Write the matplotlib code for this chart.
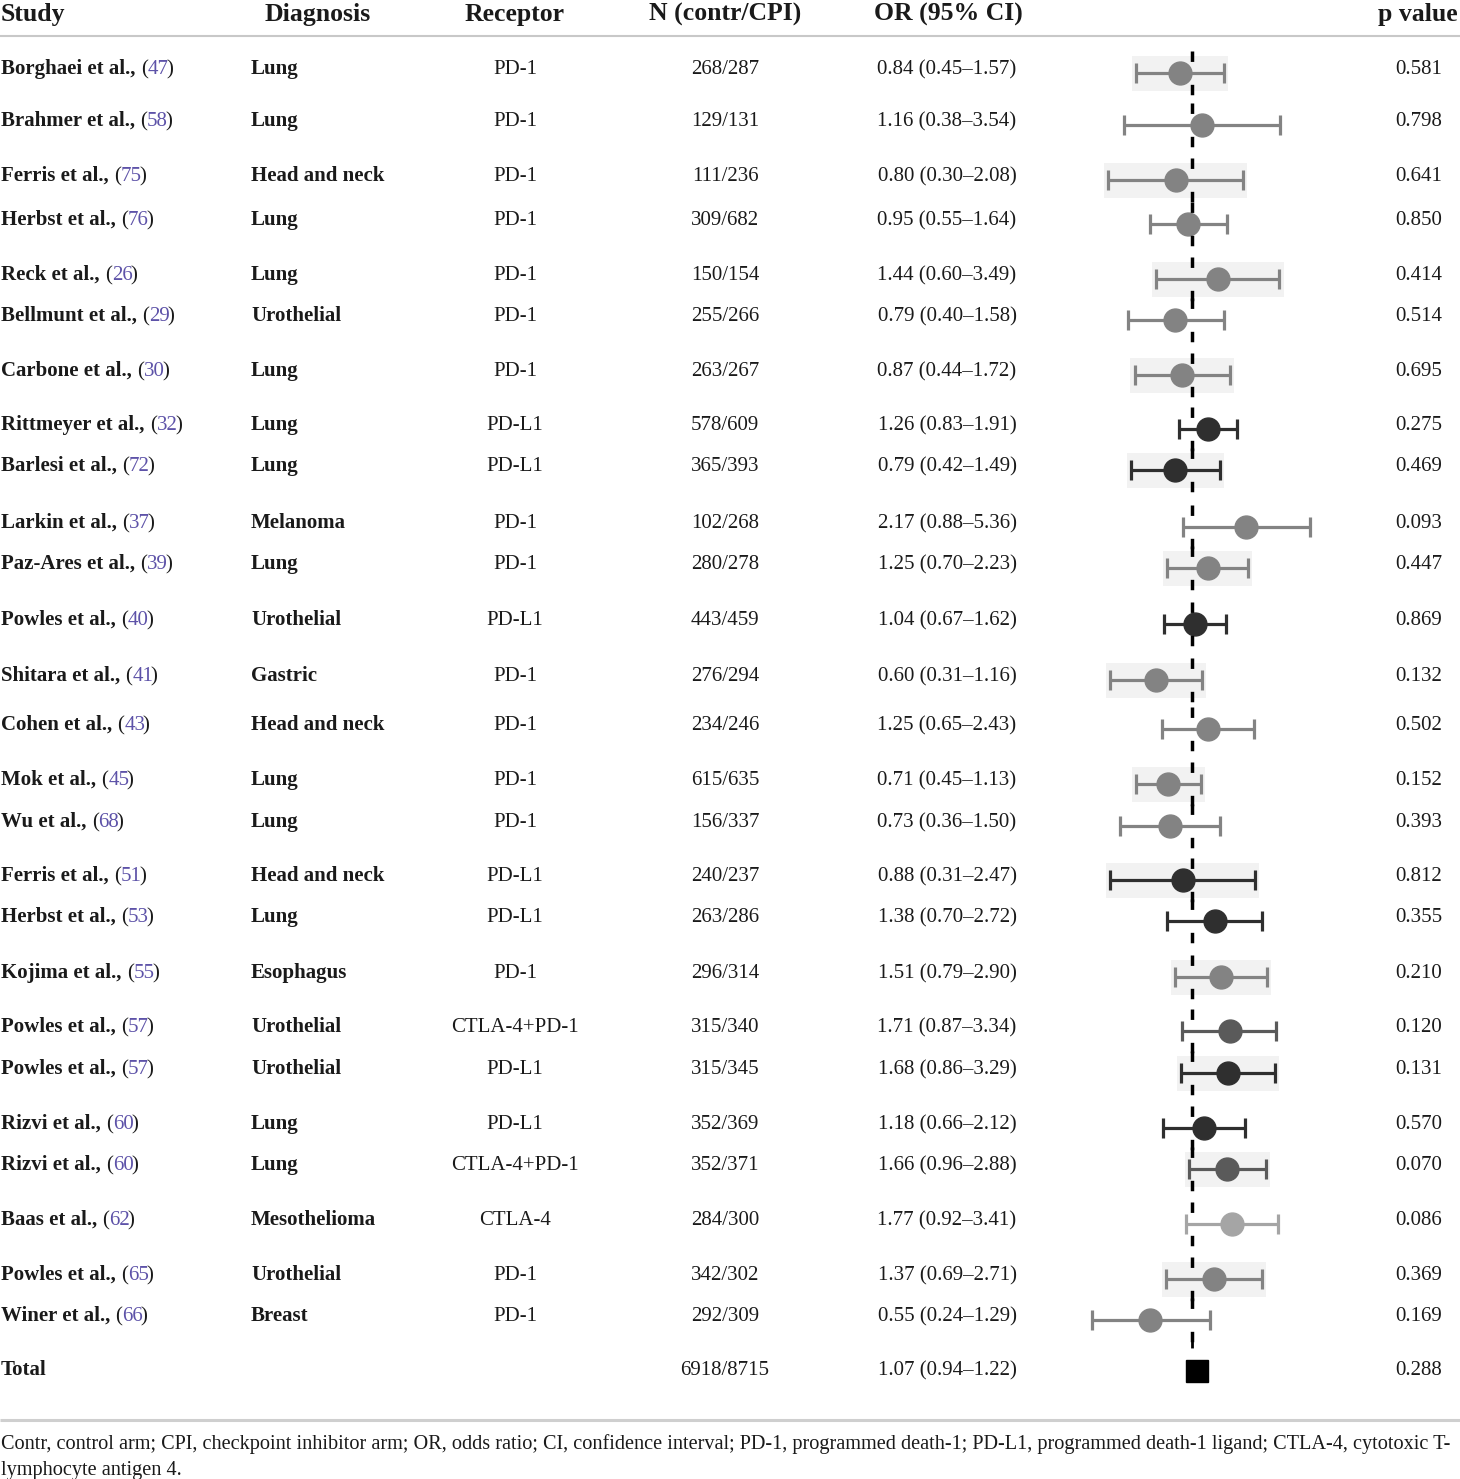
import numpy as np
import matplotlib
matplotlib.use("Agg")
import matplotlib.pyplot as plt
from matplotlib.patches import Rectangle

plt.rcParams['font.family'] = ['Liberation Serif', 'DejaVu Serif']
plt.rcParams['lines.scale_dashes'] = False

# ---------------- data ----------------
headers = ["Study", "Diagnosis", "Receptor", "N (contr/CPI)", "OR (95% CI)", "p value"]

authors = ["Borghaei et al.,", "Brahmer et al.,", "Ferris et al.,", "Herbst et al.,",
           "Reck et al.,", "Bellmunt et al.,", "Carbone et al.,", "Rittmeyer et al.,",
           "Barlesi et al.,", "Larkin et al.,", "Paz-Ares et al.,", "Powles et al.,",
           "Shitara et al.,", "Cohen et al.,", "Mok et al.,", "Wu et al.,",
           "Ferris et al.,", "Herbst et al.,", "Kojima et al.,", "Powles et al.,",
           "Powles et al.,", "Rizvi et al.,", "Rizvi et al.,", "Baas et al.,",
           "Powles et al.,", "Winer et al.,"]
refs = [47, 58, 75, 76, 26, 29, 30, 32, 72, 37, 39, 40, 41, 43, 45, 68,
        51, 53, 55, 57, 57, 60, 60, 62, 65, 66]
diagnosis = ["Lung", "Lung", "Head and neck", "Lung", "Lung", "Urothelial", "Lung", "Lung",
             "Lung", "Melanoma", "Lung", "Urothelial", "Gastric", "Head and neck", "Lung", "Lung",
             "Head and neck", "Lung", "Esophagus", "Urothelial", "Urothelial", "Lung", "Lung",
             "Mesothelioma", "Urothelial", "Breast"]
receptor = ["PD-1", "PD-1", "PD-1", "PD-1", "PD-1", "PD-1", "PD-1", "PD-L1",
            "PD-L1", "PD-1", "PD-1", "PD-L1", "PD-1", "PD-1", "PD-1", "PD-1",
            "PD-L1", "PD-L1", "PD-1", "CTLA-4+PD-1", "PD-L1", "PD-L1", "CTLA-4+PD-1",
            "CTLA-4", "PD-1", "PD-1"]
n_contr = [268, 129, 111, 309, 150, 255, 263, 578, 365, 102, 280, 443, 276, 234, 615, 156,
           240, 263, 296, 315, 315, 352, 352, 284, 342, 292]
n_cpi = [287, 131, 236, 682, 154, 266, 267, 609, 393, 268, 278, 459, 294, 246, 635, 337,
         237, 286, 314, 340, 345, 369, 371, 300, 302, 309]
odds = [0.84, 1.16, 0.80, 0.95, 1.44, 0.79, 0.87, 1.26, 0.79, 2.17, 1.25, 1.04, 0.60, 1.25,
        0.71, 0.73, 0.88, 1.38, 1.51, 1.71, 1.68, 1.18, 1.66, 1.77, 1.37, 0.55]
ci_low = [0.45, 0.38, 0.30, 0.55, 0.60, 0.40, 0.44, 0.83, 0.42, 0.88, 0.70, 0.67, 0.31, 0.65,
          0.45, 0.36, 0.31, 0.70, 0.79, 0.87, 0.86, 0.66, 0.96, 0.92, 0.69, 0.24]
ci_high = [1.57, 3.54, 2.08, 1.64, 3.49, 1.58, 1.72, 1.91, 1.49, 5.36, 2.23, 1.62, 1.16, 2.43,
           1.13, 1.50, 2.47, 2.72, 2.90, 3.34, 3.29, 2.12, 2.88, 3.41, 2.71, 1.29]
p_values = [0.581, 0.798, 0.641, 0.850, 0.414, 0.514, 0.695, 0.275, 0.469, 0.093, 0.447,
            0.869, 0.132, 0.502, 0.152, 0.393, 0.812, 0.355, 0.210, 0.120, 0.131, 0.570,
            0.070, 0.086, 0.369, 0.169]

total_label = "Total"
total_n_contr, total_n_cpi = 6918, 8715
total_or, total_lo, total_hi = 1.07, 0.94, 1.22
total_p = 0.288

footnote_lines = [
    "Contr, control arm; CPI, checkpoint inhibitor arm; OR, odds ratio; CI, confidence interval; "
    "PD-1, programmed death-1; PD-L1, programmed death-1 ligand; CTLA-4, cytotoxic T-",
    "lymphocyte antigen 4.",
]

receptor_colors = {"PD-1": "#838383", "PD-L1": "#2f2f2f",
                   "CTLA-4+PD-1": "#5a5a5a", "CTLA-4": "#a5a5a5"}

# ---------------- layout ----------------
W, H = 1460, 1479
row_y = [67, 119, 174, 218, 273, 314, 369, 423, 464, 521, 562, 618, 674, 723, 778, 820,
         874, 915, 971, 1025, 1067, 1122, 1163, 1218, 1273, 1314]
total_y = 1368
base_off = 7          # baseline offset from row centre (px)
mark_off = 6          # marker offset from row centre (px)
txt_color = "#1a1a1a"
ref_color = "#5d52a8"
body_fs = 15
head_fs = 18.5
foot_fs = 14.6

fig = plt.figure(figsize=(W / 100, H / 100), dpi=100)
ax = fig.add_axes([0, 0, 1, 1])
ax.set_xlim(0, W)
ax.set_ylim(H, 0)
ax.axis("off")

# header
ax.text(1, 21, headers[0], ha="left", va="baseline", fontsize=head_fs, weight="bold", color=txt_color)
ax.text(318, 21, headers[1], ha="center", va="baseline", fontsize=head_fs, weight="bold", color=txt_color)
ax.text(515, 21, headers[2], ha="center", va="baseline", fontsize=head_fs, weight="bold", color=txt_color)
ax.text(725, 21, headers[3], ha="center", va="baseline", fontsize=head_fs, weight="bold", color=txt_color)
ax.text(948, 21, headers[4], ha="center", va="baseline", fontsize=head_fs, weight="bold", color=txt_color)
ax.text(1458, 21, headers[5], ha="right", va="baseline", fontsize=head_fs, weight="bold", color=txt_color)
ax.plot([0, W], [36, 36], color="#c8c8c8", lw=1.5, solid_capstyle="butt")


def study_cell(y, name, ref):
    t1 = ax.text(1, y + base_off, name, ha="left", va="baseline", fontsize=body_fs,
                 weight="bold", color=txt_color)
    t2 = ax.annotate("(", xy=(1, 0), xycoords=t1, xytext=(3.8, 0), textcoords="offset points",
                     ha="left", va="bottom", fontsize=body_fs, color=txt_color)
    t3 = ax.annotate(str(ref), xy=(1, 0), xycoords=t2, ha="left", va="bottom",
                     fontsize=body_fs, color=ref_color)
    ax.annotate(")", xy=(1, 0), xycoords=t3, xytext=(-1.8, 0), textcoords="offset points",
                ha="left", va="bottom", fontsize=body_fs, color=txt_color)


for i, y in enumerate(row_y):
    study_cell(y, authors[i], refs[i])
    ax.text(251, y + base_off, diagnosis[i], ha="left", va="baseline", fontsize=body_fs,
            weight="bold", color=txt_color)
    ax.text(515, y + base_off, receptor[i], ha="center", va="baseline", fontsize=body_fs, color=txt_color)
    ax.text(725, y + base_off, f"{n_contr[i]}/{n_cpi[i]}", ha="center", va="baseline",
            fontsize=body_fs, color=txt_color)
    ax.text(947, y + base_off, f"{odds[i]:.2f} ({ci_low[i]:.2f}\u2013{ci_high[i]:.2f})",
            ha="center", va="baseline", fontsize=body_fs, color=txt_color)
    ax.text(1419, y + base_off, f"{p_values[i]:.3f}", ha="center", va="baseline",
            fontsize=body_fs, color=txt_color)

# total row
ax.text(1, total_y + base_off, total_label, ha="left", va="baseline", fontsize=body_fs,
        weight="bold", color=txt_color)
ax.text(725, total_y + base_off, f"{total_n_contr}/{total_n_cpi}", ha="center", va="baseline",
        fontsize=body_fs, color=txt_color)
ax.text(947, total_y + base_off, f"{total_or:.2f} ({total_lo:.2f}\u2013{total_hi:.2f})",
        ha="center", va="baseline", fontsize=body_fs, color=txt_color)
ax.text(1419, total_y + base_off, f"{total_p:.3f}", ha="center", va="baseline",
        fontsize=body_fs, color=txt_color)

# footer
ax.plot([0, W], [1420, 1420], color="#cfcfcf", lw=2.2, solid_capstyle="butt")
ax.text(1, 1449, footnote_lines[0], ha="left", va="baseline", fontsize=foot_fs, color=txt_color)
ax.text(1, 1475, footnote_lines[1], ha="left", va="baseline", fontsize=foot_fs, color=txt_color)

# ---------------- forest plot ----------------
fx0, fw = 1080, 240
ref_px, px_per_ln = 1192, 70.0
fax = fig.add_axes([fx0 / W, 0, fw / W, 1])
fax.set_xscale("log")
fax.set_xlim(np.exp((fx0 - ref_px) / px_per_ln), np.exp((fx0 + fw - ref_px) / px_per_ln))
fax.set_ylim(H, 0)
fax.axis("off")
fax.patch.set_alpha(0)

for i, y in enumerate(row_y):
    ym = y + mark_off
    c = receptor_colors[receptor[i]]
    if i % 2 == 0:
        lo_b, hi_b = ci_low[i] / 1.06, ci_high[i] * 1.06
        fax.add_patch(Rectangle((lo_b, ym - 17), hi_b - lo_b, 35, facecolor="#f2f2f2",
                                edgecolor="none", zorder=0))
    fax.errorbar([odds[i]], [ym], xerr=[[odds[i] - ci_low[i]], [ci_high[i] - odds[i]]],
                 fmt="o", color=c, ms=16.5, elinewidth=2.3, capsize=7.5, capthick=2.3, zorder=2)
    fax.plot([1, 1], [ym - 22, ym + 22], color="black", lw=2.5, dashes=[7.5, 16.5],
             solid_capstyle="butt", zorder=3)

# total
ym = total_y + 3
fax.errorbar([total_or], [ym], xerr=[[total_or - total_lo], [total_hi - total_or]],
             fmt="s", color="black", ms=15.5, elinewidth=2.2, capsize=0, zorder=2)
fax.plot([1, 1], [ym - 30, ym + 25], color="black", lw=2.0, dashes=[5, 37],
         solid_capstyle="butt", zorder=3)

fig.savefig("out.png", dpi=100)
